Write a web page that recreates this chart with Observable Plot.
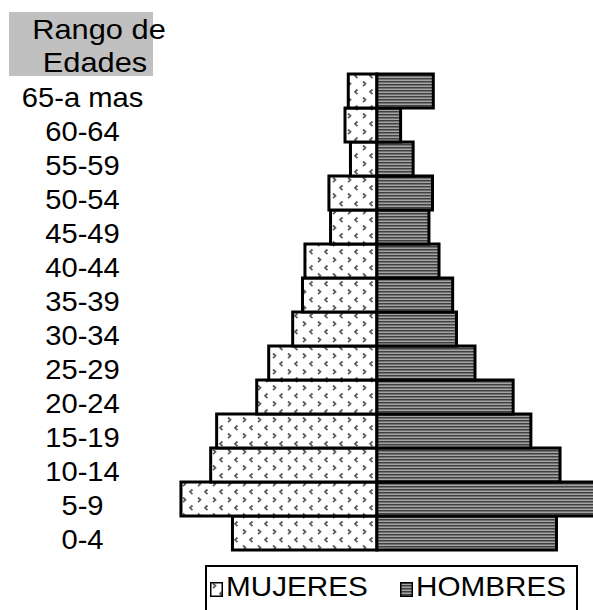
<!DOCTYPE html>
<html>
<head>
<meta charset="utf-8">
<script src="https://cdn.jsdelivr.net/npm/d3@7"></script>
<script src="https://cdn.jsdelivr.net/npm/@observablehq/plot@0.6"></script>
<style>
  body { margin: 0; background: #fff; }
  #wrap { position: relative; width: 593px; height: 610px; overflow: hidden; background: #fff;
          font-family: "Liberation Sans", Arial, sans-serif; color: #000; }
  #titlebox { position: absolute; left: 9px; top: 12px; width: 144px; height: 64px; background: #c0c0c0; }
  .tx { position: absolute; font-size: 28px; line-height: 28px; white-space: nowrap; }
  .center { transform: translateX(-50%) scaleX(1.1); }
  .left { transform-origin: 0 50%; transform: scaleX(1.06); }
  #chart { position: absolute; left: 0; top: 0; }
  #legend { position: absolute; left: 205px; top: 565px; width: 373px; height: 70px;
            border: 2.5px solid #000; box-sizing: border-box; }
</style>
</head>
<body>
<div id="wrap">
  <div id="titlebox"></div>
  <div class="tx center" style="left:99px; top:16px;">Rango de</div>
  <div class="tx center" style="left:95px; top:49px;">Edades</div>
  <div id="chart"></div>
  <div id="legend"></div>
</div>
<script>
// ---- data (percent of population) ----
const ageGroups = ["0-4","5-9","10-14","15-19","20-24","25-29","30-34","35-39","40-44","45-49","50-54","55-59","60-64","65-a mas"];
const mujeres  = [5.30, 7.19, 6.10, 5.88, 4.41, 3.97, 3.09, 2.73, 2.64, 1.70, 1.76, 0.97, 1.17, 1.05];
const hombres  = [6.59, 8.30, 6.72, 5.65, 5.00, 3.60, 2.92, 2.78, 2.28, 1.91, 2.04, 1.33, 0.87, 2.07];
const seriesNames = ["MUJERES", "HOMBRES"];
const titleLines = ["Rango de", "Edades"];

const rows = ageGroups.map((g, i) => ({grupo: g, mujeres: mujeres[i], hombres: hombres[i]}));

const plot = Plot.plot({
  width: 593,
  height: 560,
  marginTop: 72,
  marginBottom: 8,
  marginLeft: 0,
  marginRight: 0,
  style: {fontFamily: "Liberation Sans, Arial, sans-serif", background: "transparent"},
  x: {domain: [-13.83, 7.93], axis: null},
  y: {domain: ageGroups.slice().reverse(), padding: 0, axis: null},
  marks: [
    Plot.barX(rows, {y: "grupo", x1: 0, x2: d => -d.mujeres, fill: "url(#patMujeres)", stroke: "black", strokeWidth: 3}),
    Plot.barX(rows, {y: "grupo", x1: 0, x2: "hombres", fill: "url(#patHombres)", stroke: "black", strokeWidth: 3}),
    Plot.text(rows, {y: "grupo", text: "grupo", frameAnchor: "left", dx: 82, dy: 7,
                     textAnchor: "middle", fontSize: 28, fill: "black"})
  ]
});

// patterns
d3.select(plot).insert("defs", ":first-child").html(`
  <pattern id="patMujeres" patternUnits="userSpaceOnUse" width="15" height="16">
    <rect width="15" height="16" fill="#fff"/>
    <path d="M3,1.5 l2.5,2.3 l-2.5,2.3" fill="none" stroke="#5a5a5a" stroke-width="1.7"/>
    <path d="M12.5,9.5 l-2.5,2.3 l2.5,2.3" fill="none" stroke="#5a5a5a" stroke-width="1.7"/>
  </pattern>
  <pattern id="patHombres" patternUnits="userSpaceOnUse" width="4" height="3">
    <rect width="4" height="3" fill="#a4a4a4"/>
    <rect width="4" height="1.5" fill="#404040"/>
  </pattern>
`);

document.getElementById("chart").appendChild(plot);

// stretch the axis labels slightly, like the original
d3.select(plot).selectAll('g[aria-label="text"] text').each(function() {
  const w = this.getComputedTextLength();
  this.setAttribute("textLength", w * 1.04);
  this.setAttribute("lengthAdjust", "spacingAndGlyphs");
});

// legend
const legend = document.getElementById("legend");
const fills = ["url(#patMujeres)", "url(#patHombres)"];
const swX = [3, 193];
const txX = [19, 209];
seriesNames.forEach((name, i) => {
  const sw = document.createElementNS("http://www.w3.org/2000/svg", "svg");
  sw.setAttribute("width", 13); sw.setAttribute("height", 15);
  sw.style.position = "absolute"; sw.style.left = swX[i] + "px"; sw.style.top = "15px";
  sw.innerHTML = `<rect x="0.75" y="0.75" width="11.5" height="13.5" fill="${fills[i]}" stroke="#000" stroke-width="1.5"/>`;
  legend.appendChild(sw);
  const t = document.createElement("div");
  t.className = "tx left";
  t.textContent = name;
  t.style.left = txX[i] + "px";
  t.style.top = "6px";
  legend.appendChild(t);
});
</script>
</body>
</html>
